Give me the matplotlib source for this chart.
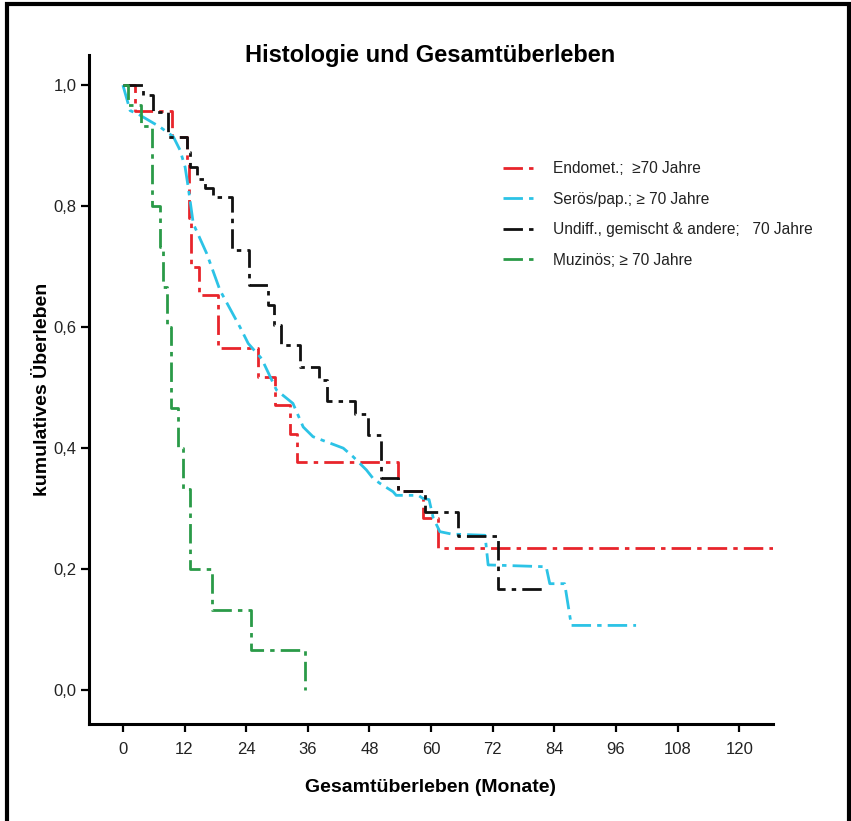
import matplotlib
matplotlib.use("Agg")
import matplotlib.pyplot as plt
from matplotlib.patches import Rectangle
from matplotlib.ticker import FuncFormatter

# Kaplan-Meier curves (months, cumulative survival)
endomet_t = [0, 2.3, 9.5, 12.4, 12.8, 13.2, 14.8, 18.5, 26.3, 29.6, 32.5, 33.8, 53.6, 58.4, 61.3, 126.8]
endomet_s = [1.0, 0.957, 0.915, 0.87, 0.78, 0.70, 0.653, 0.566, 0.518, 0.471, 0.424, 0.377, 0.330, 0.284, 0.235, 0.235]

# many small events -> drawn as a line through the read points
seroes_t = [0, 1.4, 3.0, 5.0, 7.2, 9.8, 11.1, 12.1, 12.7, 13.7, 16.3, 18.9, 22.8, 24.4, 27.0, 29.9,
            33.1, 35.1, 37.0, 42.9, 44.8, 47.4, 48.7, 50.0, 52.6, 53.2, 57.5, 58.4, 59.6, 60.4, 61.7,
            64.0, 70.5, 71.1, 82.4, 83.1, 86.0, 87.3, 99.9]
seroes_s = [1.0, 0.958, 0.952, 0.942, 0.931, 0.915, 0.893, 0.865, 0.832, 0.771, 0.722, 0.661, 0.60, 0.573, 0.548, 0.496,
            0.474, 0.435, 0.419, 0.40, 0.386, 0.364, 0.35, 0.342, 0.328, 0.322, 0.322, 0.317, 0.315, 0.285, 0.262,
            0.258, 0.256, 0.207, 0.204, 0.176, 0.176, 0.107, 0.107]

undiff_t = [0, 4.0, 5.9, 8.8, 12.5, 13.0, 14.5, 16.0, 17.5, 21.3, 24.5, 28.2, 29.5, 30.8, 34.5, 38.2,
            39.8, 45.2, 47.8, 50.3, 53.6, 58.8, 65.2, 73.0, 81.8]
undiff_s = [1.0, 0.983, 0.956, 0.915, 0.89, 0.865, 0.845, 0.83, 0.815, 0.727, 0.669, 0.636, 0.603, 0.570, 0.534, 0.512,
            0.478, 0.457, 0.421, 0.35, 0.33, 0.295, 0.255, 0.168, 0.168]

muzin_t = [0, 1.0, 3.6, 5.7, 7.3, 7.9, 8.6, 9.3, 10.8, 11.7, 13.0, 17.3, 25.0, 35.5]
muzin_s = [1.0, 0.967, 0.933, 0.80, 0.733, 0.667, 0.60, 0.467, 0.40, 0.333, 0.20, 0.133, 0.067, 0.0]

labels = [
    "Endomet.;  \u226570 Jahre",
    "Ser\u00f6s/pap.; \u2265 70 Jahre",
    "Undiff., gemischt & andere;   70 Jahre",
    "Muzin\u00f6s; \u2265 70 Jahre",
]
colors = ["#e8252b", "#2cc3e6", "#111111", "#2a9a48"]
x_ticks = [0, 12, 24, 36, 48, 60, 72, 84, 96, 108, 120]
y_ticks = [0.0, 0.2, 0.4, 0.6, 0.8, 1.0]

plt.rcParams["font.family"] = ["Liberation Sans", "DejaVu Sans"]

fig = plt.figure(figsize=(8.51, 8.21), dpi=100)
ax = fig.add_axes([0.1046, 0.1181, 0.8034, 0.815])

dash = (0, (7, 2.2, 1.6, 2.2))
series = [(endomet_t, endomet_s, "steps-post"), (seroes_t, seroes_s, "default"),
          (undiff_t, undiff_s, "steps-post"), (muzin_t, muzin_s, "steps-post")]
for (t, s, ds), col, lab in zip(series, colors, labels):
    ax.plot(t, s, drawstyle=ds, color=col, lw=2.0, linestyle=dash, label=lab)

ax.set_xlim(-6.6, 126.5)
ax.set_ylim(-0.056, 1.05)
ax.set_xticks(x_ticks)
ax.set_yticks(y_ticks)
ax.yaxis.set_major_formatter(FuncFormatter(lambda v, p: f"{v:.1f}".replace(".", ",")))
for lab in ax.get_xticklabels() + ax.get_yticklabels():
    lab.set_fontsize(12)
    lab.set_color("#222222")
ax.tick_params(direction="out", length=6, width=1.6)
ax.tick_params(axis="y", pad=3)
ax.tick_params(axis="x", pad=7)

for side in ("top", "right"):
    ax.spines[side].set_visible(False)
for side in ("left", "bottom"):
    ax.spines[side].set_linewidth(2.2)

ax.set_xlabel("Gesamt\u00fcberleben (Monate)", fontsize=14, fontweight="bold", labelpad=16)
ax.set_ylabel("kumulatives \u00dcberleben", fontsize=14, fontweight="bold", labelpad=2)
fig.text(0.505, 0.932, "Histologie und Gesamt\u00fcberleben", ha="center", va="center",
         fontsize=17, fontweight="bold")

leg = ax.legend(loc="upper left", bbox_to_anchor=(0.585, 0.862), frameon=False,
                fontsize=11.2, handlelength=2.3, handletextpad=0.9, labelspacing=1.0)
for txt in leg.get_texts():
    txt.set_color("#222222")

# outer black frame of the original figure
fig.patches.append(Rectangle((7 / 851, -0.05), 842 / 851, 1.05 - 4 / 821, transform=fig.transFigure,
                             fill=False, edgecolor="black", linewidth=3, clip_on=False))

fig.savefig("out.png", dpi=100)
